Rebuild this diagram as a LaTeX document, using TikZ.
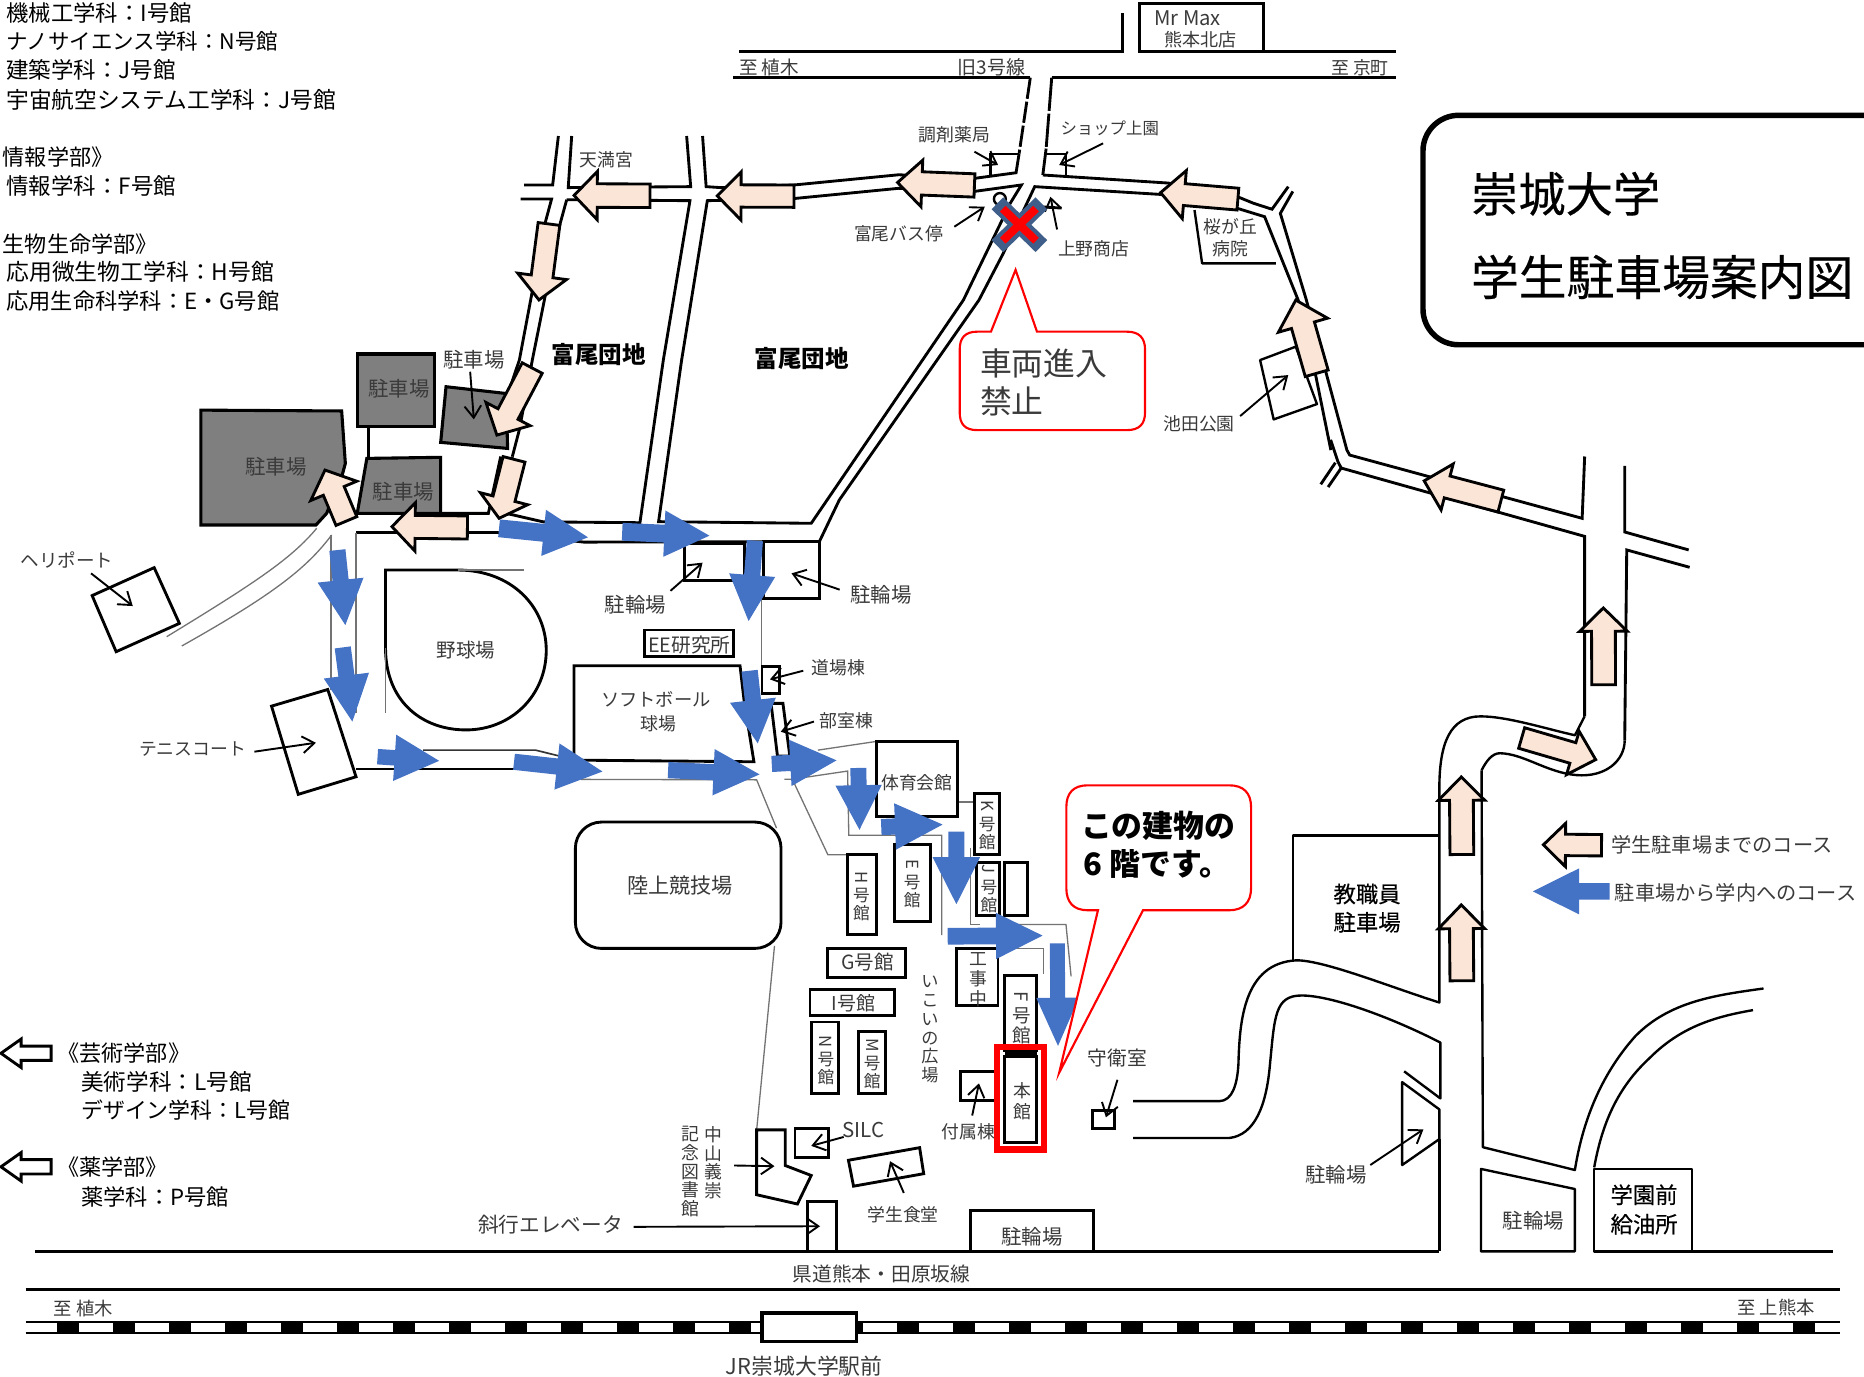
\documentclass[tikz,border=0pt]{standalone}
\usepackage{fontspec}
\setmainfont{Noto Sans CJK JP}
\newfontfamily\jpm{Noto Sans CJK JP}[FakeBold=0.35]
\usetikzlibrary{arrows.meta}
\definecolor{tanfill}{HTML}{FBE5D6}
\definecolor{bluefill}{HTML}{4472C4}
\definecolor{parkgray}{HTML}{7F7F7F}
\definecolor{xblue}{HTML}{3F5F8A}
\definecolor{txtgray}{HTML}{3A3A3A}
\newcommand\fsz[1]{\fontsize{#1}{#1}\selectfont}
\newcommand\rb[1]{\rotatebox[origin=c]{-90}{#1}}
\newcommand\BlockArr[8]{%
  \pgfmathsetmacro\bang{atan2(-(#5-#3),#4-#2)}%
  \pgfmathsetmacro\blen{veclen(#4-#2,#5-#3)}%
  \pgfmathsetmacro\bbas{\blen-#8}%
  \begin{scope}[shift={(#2,#3)},rotate=\bang]
    \draw[#1] (0,#6)--(\bbas,#6)--(\bbas,#7)--(\blen,0)--(\bbas,-#7)--(\bbas,-#6)--(0,-#6)--cycle;
  \end{scope}}
\tikzset{
  rd/.style={line width=1.2pt,black,line join=miter},
  rdthin/.style={line width=1pt,black,line join=round},
  gln/.style={line width=.55pt,black!55},
  bld/.style={line width=1.2pt,draw=black,fill=white},
  park/.style={line width=1.3pt,draw=black,fill=parkgray},
  lead/.style={line width=.8pt,black,-{Straight Barb[length=5pt,width=7pt]}},
  tanar/.style={line width=1.2pt,draw=black,fill=tanfill,line join=miter},
  bluar/.style={draw=none,fill=bluefill},
  wtar/.style={line width=1.2pt,draw=black,fill=white,line join=miter},
  lab/.style={inner sep=0pt,text=txtgray,font=\fsz{7.5},align=center},
  labp/.style={inner sep=0pt,text=txtgray,font=\fsz{8.2},align=center},
  vlab/.style={inner sep=0pt,text=txtgray,font=\fontsize{7}{7.6}\selectfont,align=center},
  dk/.style={inner sep=0pt,text=black,anchor=west},
  callt/.style={line width=.9pt,draw=red,fill=white,line join=miter},
}
\begin{document}
\begin{tikzpicture}[x=0.5pt,y=-0.5pt]
\useasboundingbox (0,0) rectangle (1568,1157.5);

% ---- top road
\draw[rd] (622,43)--(944,43)--(944,11);
\draw[rd] (1062.7,43)--(1174,43);
\draw[rd] (958.7,43)--(958.7,3)--(1062.7,3)--(1062.7,43)--cycle;
\draw[rd] (617,65.3)--(866.7,65.3);
\draw[rd] (884.7,65.3)--(1174,65.3);
\draw[rd,dash pattern=on 9pt off 1.2pt] (866.7,65.3)--(857.3,129);
\draw[rd,dash pattern=on 14pt off 1.2pt] (884.7,65.3)--(880,125);
\draw[rd] (880,125)--(877.2,147.2);
% ---- main E-W roads
\draw[rd] (469.7,114.4)--(464.9,155.6)--(440.8,155.6);
\draw[rd] (480.9,114.4)--(478,157.8)--(581,157)--(577.6,114.4);
\draw[rd] (591,114.4)--(594,157)--(606,157.8)--(668,155.6)--(756,147)--(820,150)--(854.7,145.3)--(857.3,129);
\draw[rd] (438,167.4)--(464,167.4)--(458.5,187.8)--(447.2,248)--(436.9,302.8)--(426,335);
\draw[rd] (476.7,168)--(470.5,190.6)--(458.5,249.5)--(447.8,302.8)--(437,361)--(431,384);
\draw[rd] (421.2,384)--(410.8,431.8)--(370.7,431.8);
\draw[rd] (431,384)--(425.7,431.8)--(457,439)--(538.3,439.7)--(558,302.8)--(580.4,168.8)--(476.7,168);
\draw[rd] (554,438.8)--(573.4,302.8)--(595,168.8)--(668,167)--(756,158.4)--(819.7,161)--(859.2,155.6)--(849.8,171)--(810.4,252.4)--(682.4,440.2)--cycle;
\draw[rd] (689.2,455.7)--(706,420.6)--(823.5,252.4)--(844,213)--(870.4,157)--(975.6,163.5)--(1041,175.3)--(1063.8,182.3)--(1092,252.4)--(1107,317)--(1119.5,378.6);
\draw[rd] (877.2,147.2)--(983,154)--(1041,165.5)--(1054.5,171)--(1070,176)--(1083.7,157);
\draw[rd] (1087.5,161)--(1077,179.5)--(1098.8,252)--(1115.6,314)--(1133,378.6)--(1135.4,382.8)--(1330.9,436)--(1333,384);
\draw[rd] (1119.3,370)--(1125.4,388.2)--(1128.2,393.7)--(1333,451.2)--(1333,602.6);
\draw[rd] (1123.3,389.2)--(1111,407.4);
\draw[rd] (1128.2,393.7)--(1117.2,409.7);
\draw[rd] (1366.7,391.9)--(1366.7,447.5)--(1420.5,462.6);
\draw[rd] (1421.3,477.2)--(1368.4,462.6)--(1366.7,623);
% lower horizontal
\draw[rd] (299.5,448)--(419,448);
\draw[rd] (419,448)--(491,456)--(689.2,455.7);
% ---- thin gray site lines
\draw[gln] (299.5,448)--(299.5,600);
\draw[gln] (278.4,450)--(278.4,580);
\draw[gln] (640.5,503)--(640.5,559.4);
\draw[gln] (266.4,444.4) .. controls (245,470) and (215,490) .. (140.2,535.6);
\draw[gln] (279,450) .. controls (258,478) and (230,500) .. (152.9,543.4);
\draw[line width=.7pt,black!80] (355.9,631)--(450.5,631)--(470.7,636);
\draw[line width=.8pt,black] (299.5,647)--(432.4,647);
\draw[gln] (488.7,655.6)--(636.5,656)--(653.2,696.6);
\draw[gln] (651.5,795.7)--(636.5,950.4);
\draw[gln] (659.8,655.5)--(666.5,655.5)--(696.4,719)--(713,719);
\draw[gln] (688,631)--(737,623.7);
\draw[gln] (666.5,655.5)--(713,648.6)--(714,702.6)--(792.2,702.6)--(792.2,786.7);
\draw[gln] (805.2,674.7)--(819.5,674.7);
\draw[gln] (816.2,713)--(816.2,777.7)--(824.5,777.7);
\draw[gln] (839.5,777.7)--(896.7,777.7)--(901,821.3);
\draw[gln] (839.5,798)--(877.7,798)--(877.7,819.7);

% ---- SE roads
\begin{scope}[xshift=8.815pt,xscale=.9838]
\draw[rdthin] (951,926.3)--(1024.6,926.3) .. controls (1036,926) and (1040,912) .. (1041,895) .. controls (1042,860) and (1045,810) .. (1090.8,807.8) .. controls (1115,808) and (1170,830) .. (1212.8,843.3)--(1212.8,661.8) .. controls (1213,625) and (1222,602.6) .. (1248,602.6) .. controls (1270,602.6) and (1300,612) .. (1328.7,618.5)--(1337,602.6);
\draw[rdthin] (951,957.3)--(1032.9,957.3) .. controls (1055,955) and (1065,930) .. (1068,895) .. controls (1072,855) and (1072,837.4) .. (1095,837.4) .. controls (1120,837.4) and (1170,855) .. (1213.7,877)--(1213.7,924)--(1182.7,901.2);
\draw[rdthin] (1212.8,958.2)--(1212.8,1052.6);
\draw[rdthin] (1248.9,648)--(1250,965)--(1328.7,984.2) .. controls (1335,945) and (1350,905) .. (1380.4,871.6) .. controls (1410,842) and (1450,837) .. (1490,831.5);
\draw[rdthin] (1345.2,982) .. controls (1352,945) and (1365,915) .. (1392.8,889.8) .. controls (1420,863) and (1450,855) .. (1481,849.7);
\draw[rdthin] (1248.9,648) .. controls (1253,640) and (1258,633.6) .. (1264.6,633.6) .. controls (1285,634) and (1305,650) .. (1330,652) .. controls (1355,654) and (1371,640) .. (1371.3,623);
\draw[rdthin] (1087.9,807.8)--(1087.9,702.9)--(1212.8,702.9);
\draw[rdthin,fill=white] (1181,910.3)--(1212.8,933.2)--(1212.8,958.2)--(1181,980)--cycle;
\draw[rdthin] (1248.4,983.3)--(1328.7,1000.2)--(1328.7,1052.6)--(1248.4,1052.6)--cycle;
\draw[rdthin] (1345.2,983.3) rectangle (1428.8,1052.6);
\end{scope}
\draw[rdthin] (1423.3,1052.6)--(1542,1052.6);
% ---- bottom lines and rail
\draw[rd] (29.5,1052.8)--(1210.8,1052.8);
\draw[rd] (21.5,1084.5)--(1548,1084.5);
\draw[line width=.9pt] (21.5,1111.7)--(1548,1111.7);
\draw[line width=.9pt] (21.5,1121.5)--(1548,1121.5);
\foreach \k in {0,...,31}{\fill[black] ({48.3+47.1*\k},1111.7) rectangle ({66.8+47.1*\k},1121.5);}
\draw[line width=1.5pt,fill=white] (641,1104.7) rectangle (720.5,1128.5);

% ---- parking lots
\draw[park] (169,345)--(287.4,345.7)--(290.5,389.8)--(288.3,398)--(274.8,431.8)--(265.8,441.6)--(169,441.6)--cycle;
\draw[park] (300.5,297.8) rectangle (365.8,358.9);
\draw[rd] (310,358.9)--(310,385.6);
\draw[park] (308.6,385.6)--(370.7,384.7)--(370.7,431.8)--(300.5,431.8)--cycle;
\draw[park] (375.2,325.3)--(425.7,331)--(427,377.2)--(370.7,372.1)--cycle;

% ---- buildings
\draw[bld] (77.5,501)--(129.7,477.5)--(150.9,524.4)--(97.7,548.2)--cycle;
\draw[bld] (324.3,479.5)--(385,479.5) .. controls (430,479.5) and (459.5,510) .. (459.5,547) .. controls (459.5,585) and (430,614) .. (392,614) .. controls (355,614) and (324.3,590) .. (324.3,545)--cycle;
\draw[gln] (385,479.5)--(440.5,479.5);
\draw[gln] (324.3,545)--(324.3,600);
\draw[bld] (482.9,560)--(622.5,560)--(626,590)--(634.2,640.8)--(482.9,639.4)--cycle;
\draw[bld] (541.9,530) rectangle (617,552.4);
\draw[bld] (575.7,457) rectangle (626,488.5);
\draw[bld] (641.9,455.7) rectangle (689.2,503.3);
\draw[bld] (641,560.8) rectangle (655.4,583.3);
\draw[bld] (648.6,591.7)--(658.6,591.7)--(664.4,636)--(654,636)--cycle;
\draw[bld] (228.4,594)--(275.7,580)--(299.5,653.4)--(250.9,668.2)--cycle;
\draw[bld,rounded corners=11pt] (484,691.5) rectangle (657,797.8);
\draw[bld] (737,623.7) rectangle (805.2,687);
\draw[bld] (819.5,667.5) rectangle (840.5,719);
\draw[bld] (821.2,725.8) rectangle (840.5,770.2);
\draw[bld] (845.1,725.8) rectangle (864.4,770.2);
\draw[bld] (752.3,710.7) rectangle (782.9,775.3);
\draw[bld] (713,719) rectangle (737.3,786);
\draw[bld] (696.4,798) rectangle (762,822);
\draw[bld] (681.4,832) rectangle (752.6,854.3);
\draw[bld] (682.4,859.7) rectangle (705.4,919.7);
\draw[bld] (722,867.8) rectangle (744.7,919.7);
\draw[bld] (804.5,798) rectangle (839.5,846);
\draw[bld] (845.1,820.6) rectangle (872,884);
\draw[bld] (807.8,901.4) rectangle (840,925.8);
\draw[bld] (845.1,888.8) rectangle (872,960.9);
\draw[line width=2.4pt] (845.1,886.5)--(872,886.5);
\draw[line width=2.6pt,draw=red] (839,880.5) rectangle (878,967);
\draw[bld] (919.3,933.9) rectangle (937.6,949.5);
\draw[bld] (636.5,950.4)--(660.5,950.4)--(660.5,980.4)--(682.4,988.8)--(670.8,1012.8)--(636.5,1005)--cycle;
\draw[bld] (668.8,949.5) rectangle (697,973.5);
\draw[bld] (713.7,976)--(773.6,965.4)--(777,987.3)--(718,997.8)--cycle;
\draw[bld] (679.1,1011) rectangle (704,1052.9);
\draw[bld] (816.2,1018) rectangle (920,1052.9);
\draw[line width=1pt,draw=black,fill=white] (841.1,167.4) circle (5);
\draw[rd] (875,174)--(893,175);

% ---- leader arrows
\draw[lead] (819.7,127.6)--(839.6,138.8);
\draw[rd] (833,147)--(833,129.6)--(857.3,129.6);
\draw[rd] (879.8,129.6)--(896.7,129.6)--(896.7,147);
\draw[lead] (927.9,120.6)--(891,138.8);
\draw[lead] (802.8,190.7)--(828.4,173.9);
\draw[lead] (889.2,193)--(883.6,165.5);
\draw[rdthin] (1004.8,176.7)--(1011.2,221.5)--(1073.2,221.5);
\draw[rdthin,fill=white] (1060,302.9)--(1090,291.6)--(1107.8,339.9)--(1071.4,352.8)--cycle;
\draw[lead] (1043.2,350)--(1083.7,315.5);
\draw[lead] (395.5,312.7)--(398.6,352.8);
\draw[lead] (76.6,482.3)--(111.7,509.8);
\draw[lead] (564,497)--(591,473.3);
\draw[lead] (706.3,496)--(665.8,482.3);
\draw[lead] (675.7,564.2)--(647.7,571.5);
\draw[lead] (684.7,607)--(656.8,615.5);
\draw[lead] (214,632.3)--(265.8,624.8);
\draw[lead] (817.8,938.4)--(823.5,911.3);
\draw[lead] (940,908.3)--(930.3,939.9);
\draw[lead] (617.6,980.4)--(651.5,981);
\draw[lead] (709.7,956.4)--(682.4,963.9);
\draw[lead] (760.3,1003.5)--(748.7,976.8);
\draw[lead] (533,1032)--(689.8,1031.5);
\draw[lead] (1152.7,980)--(1197.4,950);

% ---- tan course arrows
\BlockArr{tanar}{819.7}{156}{755}{153.5}{9.8}{19.6}{20.5}
\BlockArr{tanar}{667.9}{165}{603.4}{164.8}{9.4}{20.3}{20}
\BlockArr{tanar}{546.8}{164.7}{482.9}{164.4}{9.9}{20.3}{19.5}
\BlockArr{tanar}{461.8}{188.4}{453.4}{252.3}{9.2}{20.7}{20}
\BlockArr{tanar}{447.7}{309.6}{418}{366}{9.5}{21}{20}
\BlockArr{tanar}{432.4}{386.4}{419.8}{436}{9.5}{20.5}{17}
\BlockArr{tanar}{393.2}{443.7}{329.7}{443}{9.7}{20.3}{19.5}
\BlockArr{tanar}{291.4}{438.3}{273.4}{395.4}{9.5}{21}{19}
\BlockArr{tanar}{1041.3}{167.5}{976.3}{162}{9.2}{20.3}{20}
\BlockArr{tanar}{1107.6}{314}{1090}{252.4}{10}{21.5}{22}
\BlockArr{tanar}{1262.5}{421.5}{1198}{404.5}{9.5}{20}{20}
\BlockArr{tanar}{1349}{576}{1348.7}{511.4}{10}{20}{19.6}
\BlockArr{tanar}{1280}{620.8}{1342.3}{639}{9}{19}{20}
\BlockArr{tanar}{1229.7}{718.8}{1229.2}{653.6}{10}{19.5}{19.6}
\BlockArr{tanar}{1229.7}{825}{1229.2}{761.2}{10}{19.5}{20}
\BlockArr{tanar}{1347.2}{711}{1298.3}{710.6}{9}{18.2}{18.6}
\BlockArr{wtar}{43}{886}{0.8}{886}{6}{12}{17}
\BlockArr{wtar}{43}{981.5}{0.8}{981.5}{6}{12}{17}

% ---- blue course arrows
\BlockArr{bluar}{283.8}{462.7}{290.5}{525.8}{6.8}{19.4}{38}
\BlockArr{bluar}{288.3}{544.6}{296.4}{607}{6.8}{19.2}{39}
\BlockArr{bluar}{317.6}{636.5}{369.4}{640}{6.5}{19.5}{37.5}
\BlockArr{bluar}{432.4}{640.8}{506.8}{649}{6.8}{19.5}{38.5}
\BlockArr{bluar}{562}{647.8}{638.9}{651.4}{6.8}{19.5}{38.7}
\BlockArr{bluar}{419.8}{444.4}{494.6}{452}{7.5}{19.5}{37.5}
\BlockArr{bluar}{523.4}{447.3}{596.8}{450.6}{7.5}{19.5}{38}
\BlockArr{bluar}{635}{454.8}{629.7}{522.4}{6.8}{19.4}{38.7}
\BlockArr{bluar}{630.6}{564.2}{637.4}{625.3}{6.8}{19.4}{36.5}
\BlockArr{bluar}{649.2}{642.6}{703.7}{639.6}{6.8}{19.5}{39}
\BlockArr{bluar}{722}{646}{723}{698}{6.7}{19.5}{37.5}
\BlockArr{bluar}{741.3}{695.7}{792.9}{693.6}{6.8}{19.5}{40}
\BlockArr{bluar}{804.5}{699.6}{804.5}{760.6}{6.7}{20}{39.6}
\BlockArr{bluar}{797.2}{787.6}{877}{787}{7}{19.5}{39.2}
\BlockArr{bluar}{889.4}{793.6}{890}{879.8}{6.3}{18}{40.5}
\BlockArr{bluar}{1354.1}{749.8}{1289.4}{749.8}{7}{19.4}{39}

% ---- no-entry cross
\draw[xblue,line width=7pt] (839,171)--(876,207);
\draw[xblue,line width=7pt] (876,171)--(839,207);
\draw[red,line width=3.4pt] (843.5,175.5)--(871.5,202.5);
\draw[red,line width=3.4pt] (871.5,175.5)--(843.5,202.5);

% ---- callouts
\draw[callt] (833.6,279)--(854.3,227)--(872.3,279)--(948,279) .. controls (958,279) and (963.2,284) .. (963.2,294)--(963.2,347) .. controls (963.2,357) and (958,361.8) .. (948,361.8)--(822,361.8) .. controls (812,361.8) and (807.3,357) .. (807.3,347)--(807.3,294) .. controls (807.3,284) and (812,279) .. (822,279)--cycle;
\draw[callt] (923.6,765.7)--(891,902.3)--(961.5,765.7)--(1034,765.7) .. controls (1046,765.7) and (1052.4,759) .. (1052.4,747)--(1052.4,679) .. controls (1052.4,667) and (1046,660.6) .. (1034,660.6)--(915,660.6) .. controls (903,660.6) and (897,667) .. (897,679)--(897,747) .. controls (897,759) and (903,765.7) .. (915,765.7)--cycle;
\node[inner sep=0pt,anchor=west,font=\fsz{13.4},text=txtgray] (c1a) at (824,305.7) {車両進入};
\node[inner sep=0pt,anchor=west,font=\fsz{13.4},text=txtgray] (c1b) at (824,338) {禁止};
\node[inner sep=0pt,anchor=west,font=\bfseries\fsz{13}] (c2a) at (909,695) {この建物の};
\node[inner sep=0pt,anchor=west,font=\bfseries\fsz{13}] (c2b) at (911,726.6) {6 階です。};

% ---- title box
\draw[line width=2.3pt,rounded corners=15pt] (1568,97)--(1197,97)--(1197,290)--(1568,290);
\node[inner sep=0pt,anchor=west,font=\jpm\fsz{19.9},text=black] (t1) at (1237,163) {崇城大学};
\node[inner sep=0pt,anchor=west,font=\jpm\fsz{20.1},text=black] (t2) at (1237,233) {学生駐車場案内図};

% ---- left text
\node[dk,font=\fsz{9.4}] (a1) at (5,11) {機械工学科：I号館};
\node[dk,font=\fsz{9.05}] (a2) at (5,35) {ナノサイエンス学科：N号館};
\node[dk,font=\fsz{9.45}] (a3) at (5,59) {建築学科：J号館};
\node[dk,font=\fsz{9.55}] (a4) at (5,84) {宇宙航空システム工学科：J号館};
\node[dk,font=\fsz{9.3}] (a5) at (2,132) {情報学部》};
\node[dk,font=\fsz{9.45}] (a6) at (5,156) {情報学科：F号館};
\node[dk,font=\fsz{9.3}] (a7) at (2,205) {生物生命学部》};
\node[dk,font=\fsz{9.6}] (a8) at (5,229) {応用微生物工学科：H号館};
\node[dk,font=\fsz{9.35}] (a9) at (5,253) {応用生命科学科：E・G号館};
\node[dk,font=\fsz{9.3}] (b1) at (48,886) {《芸術学部》};
\node[dk,font=\fsz{9.5}] (b2) at (68,910) {美術学科：L号館};
\node[dk,font=\fsz{9.2}] (b3) at (68,934) {デザイン学科：L号館};
\node[dk,font=\fsz{9.3}] (b4) at (48,982) {《薬学部》};
\node[dk,font=\fsz{9.35}] (b5) at (68,1007) {薬学科：P号館};

% ---- map labels
\node[lab,font=\fsz{7.8}] (m1) at (647,57) {至 植木};
\node[lab,font=\fsz{8}] (m2) at (834,57) {旧3号線};
\node[lab,font=\fsz{7.5}] (m3) at (1144,57) {至 京町};
\node[lab,font=\fsz{8.5}] (m4) at (999,15) {Mr Max};
\node[lab,font=\fsz{7.6}] (m5) at (1010,33) {熊本北店};
\node[lab] (m6) at (803,113.6) {調剤薬局};
\node[lab,font=\fsz{6.9}] (m7) at (933.5,108) {ショップ上園};
\node[lab] (m8) at (755.9,196.3) {富尾バス停};
\node[lab] (m9) at (920,209) {上野商店};
\node[lab] (m10) at (1035,190.7) {桜が丘};
\node[lab] (m11) at (1035,209) {病院};
\node[lab] (m12) at (1008.6,356.7) {池田公園};
\node[lab] (m13) at (510,134) {天満宮};
\node[inner sep=0pt,font=\bfseries\fsz{9.9}] (m14) at (503.5,298.6) {富尾団地};
\node[inner sep=0pt,font=\bfseries\fsz{9.9}] (m15) at (674.4,301.4) {富尾団地};
\node[labp,font=\fsz{8.6}] (p1) at (232,393) {駐車場};
\node[labp,font=\fsz{8.6}] (p2) at (335.6,326.7) {駐車場};
\node[labp,font=\fsz{8.6}] (p3) at (339.2,413.6) {駐車場};
\node[labp,font=\fsz{8.6}] (p4) at (398.6,302.3) {駐車場};
\node[lab,font=\fsz{7.8}] (h1) at (56.3,471) {ヘリポート};
\node[labp] (h2) at (392,546.8) {野球場};
\node[lab,font=\fsz{8.3}] (h3) at (580,542.6) {EE研究所};
\node[lab,font=\fsz{7.7}] (h4) at (551.8,588) {ソフトボール};
\node[lab] (h5) at (554,608.5) {球場};
\node[labp,font=\fsz{8.6}] (h6) at (534.7,509) {駐輪場};
\node[labp,font=\fsz{8.6}] (h7) at (741,500) {駐輪場};
\node[lab] (h8) at (705,562) {道場棟};
\node[lab] (h9) at (712,606) {部室棟};
\node[lab] (h10) at (162,630.4) {テニスコート};
\node[labp,font=\fsz{8.9}] (h11) at (572,745) {陸上競技場};
\node[lab] (k1) at (771.3,658.2) {体育会館};
\node[vlab] (k2) at (830.5,694) {\rb{K}\\号\\館};
\node[vlab] (k3) at (831.8,747.7) {\rb{J}\\号\\館};
\node[vlab] (k4) at (767.3,743) {\rb{E}\\号\\館};
\node[vlab] (k5) at (724.7,753.7) {\rb{H}\\号\\館};
\node[lab,font=\fsz{8.2}] (k6) at (729.7,809) {G号館};
\node[lab,font=\fsz{8}] (k7) at (718,843.8) {I号館};
\node[vlab] (k8) at (694.8,892) {\rb{N}\\号\\館};
\node[vlab] (k9) at (733.7,894.8) {\rb{M}\\号\\館};
\node[vlab,font=\fontsize{7.5}{8.5}\selectfont] (k10) at (822.8,824) {工\\事\\中};
\node[vlab,font=\fontsize{7.8}{8.2}\selectfont] (k11) at (859.4,856) {\rb{F}\\号\\館};
\node[vlab,font=\fontsize{7.5}{8.5}\selectfont] (k12) at (860,926.4) {本\\館};
\node[lab] (k13) at (814.5,951.9) {付属棟};
\node[lab,font=\fsz{8.3}] (k14) at (940,889.7) {守衛室};
\node[vlab,font=\fontsize{7.2}{7.9}\selectfont] (k15) at (782.2,866) {い\\こ\\い\\の\\広\\場};
\node[vlab,anchor=north,font=\fontsize{7.5}{7.9}\selectfont] (k16) at (600,947) {中\\山\\義\\崇};
\node[vlab,anchor=north,font=\fontsize{7.5}{7.9}\selectfont] (k17) at (581,947) {記\\念\\図\\書\\館};
\node[lab,font=\fsz{8.6}] (k18) at (726.4,950.4) {SILC};
\node[lab] (k19) at (759.6,1021.5) {学生食堂};
\node[lab,font=\fsz{8.7}] (k20) at (463,1030) {斜行エレベータ};
\node[labp,font=\fsz{8.6}] (k21) at (868,1040) {駐輪場};
\node[lab,font=\fsz{8.3}] (k22) at (741.5,1072) {県道熊本・田原坂線};
\node[lab,font=\fsz{7.7}] (k23) at (70,1100.5) {至 植木};
\node[lab,font=\fsz{7.7}] (k24) at (1494,1099.6) {至 上熊本};
\node[lab,font=\fsz{9.2}] (k25) at (676.5,1149) {JR崇城大学駅前};
\node[labp,font=\fsz{8.6}] (r1) at (1124,987.9) {駐輪場};
\node[labp,font=\fsz{8.6}] (r2) at (1290,1026.6) {駐輪場};
\node[inner sep=0pt,font=\jpm\fsz{9.4}] (r3) at (1150,752) {教職員};
\node[inner sep=0pt,font=\jpm\fsz{9.4}] (r4) at (1150,775.8) {駐車場};
\node[inner sep=0pt,font=\jpm\fsz{9.4}] (r5) at (1383,1005) {学園前};
\node[inner sep=0pt,font=\jpm\fsz{9.4}] (r6) at (1383,1029.8) {給油所};
\node[lab,anchor=west,font=\fsz{8.5}] (r7) at (1355,711) {学生駐車場までのコース};
\node[lab,anchor=west,font=\fsz{8.5}] (r8) at (1358,750.8) {駐車場から学内へのコース};
\end{tikzpicture}
\end{document}
